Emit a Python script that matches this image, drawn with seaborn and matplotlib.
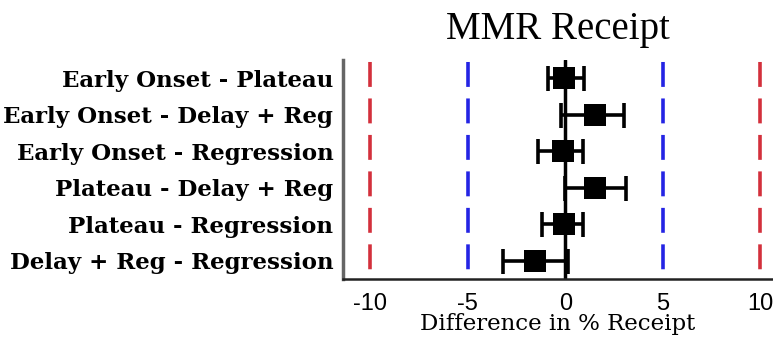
import numpy as np
import pandas as pd
import matplotlib
matplotlib.use('Agg')
import matplotlib.pyplot as plt
import seaborn as sns

## Data
comparisons = ['Early Onset - Plateau', 'Early Onset - Delay + Reg',
               'Early Onset - Regression', 'Plateau - Delay + Reg',
               'Plateau - Regression', 'Delay + Reg - Regression']
diff = [-0.05, 1.5, -0.1, 1.5, -0.05, -1.55]
ci_low = [-0.9, -0.2, -1.4, 0.0, -1.2, -3.2]
ci_high = [0.95, 3.0, 0.9, 3.1, 0.9, 0.15]
xticks = [-10, -5, 0, 5, 10]

df = pd.DataFrame({'comparison': comparisons, 'diff': diff,
                   'low': ci_low, 'high': ci_high})

sns.set_style('white')
plt.rcParams['text.color'] = 'black'
plt.rcParams['axes.labelcolor'] = 'black'
plt.rcParams['xtick.color'] = 'black'
plt.rcParams['ytick.color'] = 'black'
serif = ['DejaVu Serif']
sans = ['Liberation Sans', 'DejaVu Sans']

fig = plt.figure(figsize=(7.73, 3.41), dpi=100)
ax = fig.add_axes([0.4437, 0.182, 0.5563, 0.642])

# reference lines, dashes lined up with the rows
ypos = np.arange(len(df))
dash = (9.55, (6.9, 3.2))
ax.vlines([-10, 10], -0.5, 5.5, colors='#d3303c', linewidth=2.6,
          linestyles=[dash], zorder=1)
ax.vlines([-5, 5], -0.5, 5.5, colors='#2424e4', linewidth=2.6,
          linestyles=[dash], zorder=1)
ax.axvline(0, color='black', linewidth=2.5, zorder=2)

# intervals and point estimates
ax.errorbar(df['diff'], ypos,
            xerr=[df['diff'] - df['low'], df['high'] - df['diff']],
            fmt='none', ecolor='black', elinewidth=2.6, capsize=9,
            capthick=2.6, zorder=3)
sns.stripplot(data=df, x='diff', y='comparison', order=comparisons,
              jitter=False, marker='s', size=16.5, color='black',
              linewidth=0, zorder=4, ax=ax)

ax.set_xlim(-11.4, 10.65)
ax.set_ylim(5.5, -0.5)
ax.set_xticks(xticks)
ax.set_xticklabels([str(t) for t in xticks], family=sans, fontsize=17,
                   color='black')
ax.set_yticks(ypos)
ax.set_yticklabels(comparisons, family=serif, fontsize=16.5,
                   fontweight='bold', color='black')
ax.tick_params(axis='both', length=0)
ax.tick_params(axis='y', pad=7)
ax.tick_params(axis='x', pad=10)

ax.set_xlabel('Difference in % Receipt', family=serif, fontsize=16.5,
              color='black', labelpad=-1)
ax.set_ylabel('')
ax.set_title('MMR Receipt', family=['Liberation Serif'], fontsize=28,
             pad=15)

for side in ['top', 'right']:
    ax.spines[side].set_visible(False)
ax.spines['left'].set_color('#666666')
ax.spines['left'].set_linewidth(2.5)
ax.spines['bottom'].set_color('#222222')
ax.spines['bottom'].set_linewidth(1.8)

fig.savefig('out.png', dpi=100)
